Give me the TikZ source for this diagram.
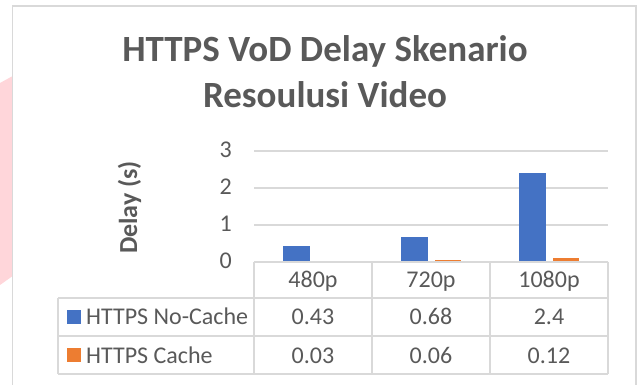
\documentclass[tikz,border=0pt]{standalone}
\usepackage{fontspec}
\setmainfont{Carlito}
\definecolor{txtgray}{HTML}{595959}
\definecolor{gridgray}{HTML}{D9D9D9}
\definecolor{nocache}{HTML}{4472C4}
\definecolor{cache}{HTML}{ED7D31}
\definecolor{wmpink}{HTML}{FFD6DA}
\tikzset{
  chartlbl/.style={text=txtgray,inner sep=0pt,font=\fontsize{24}{28}\selectfont},
  charttitle/.style={text=txtgray,inner sep=0pt,font=\bfseries\fontsize{37}{44}\selectfont},
  gridln/.style={draw=gridgray,line width=1.5pt},
  tableln/.style={draw=gridgray,line width=2pt}
}

\begin{document}
\begin{tikzpicture}[x=1pt,y=-1pt]
	\useasboundingbox (0,0) rectangle (641,385);
	\fill[wmpink] (0,83) -- (12.7,76) -- (12.7,276) -- (0,285) -- cycle;
	\draw[gridln] (12.7,385) -- (12.7,6) -- (636,6) -- (636,385);

	\node[charttitle,anchor=base] (title1) at (325,62) {HTTPS VoD Delay Skenario};
	\node[charttitle,anchor=base] (title2) at (325,108) {Resoulusi Video};
	\node[text=txtgray,inner sep=0pt,font=\bfseries\fontsize{26}{30}\selectfont,rotate=90,anchor=base] (ytitle) at (137,207.5) {Delay (s)};

	\foreach \v in {1,2,3}
		\draw[gridln] (254,{262-37*\v}) -- (608,{262-37*\v});
	\foreach \v in {0,...,3}
		\node[chartlbl,anchor=base east] (tick\v) at (232,{269-37*\v}) {\v};

	\foreach \c/\a/\b in {313/0.43/0.03,431/0.68/0.06,549/2.4/0.12}{
		\fill[nocache] (\c-30,262) rectangle (\c-3,{262-37*\a});
		\fill[cache] (\c+4,262) rectangle (\c+30,{262-37*\b});
	}

	\draw[tableln] (254,262) -- (608,262) (58,298) -- (608,298) (58,336) -- (608,336) (58,374) -- (608,374);
	\draw[tableln] (58,298) -- (58,374) (254,262) -- (254,374) (372,262) -- (372,374) (490,262) -- (490,374) (608,262) -- (608,374);

	\node[chartlbl,anchor=base] (cat480) at (313,288) {480p};
	\node[chartlbl,anchor=base] (cat720) at (431,288) {720p};
	\node[chartlbl,anchor=base] (cat1080) at (549,288) {1080p};

	\fill[nocache] (66.7,310) rectangle (81,324);
	\node[chartlbl,anchor=base west] (legnocache) at (86,325) {HTTPS No-Cache};
	\node[chartlbl,anchor=base] (nc480) at (313,325) {0.43};
	\node[chartlbl,anchor=base] (nc720) at (431,325) {0.68};
	\node[chartlbl,anchor=base] (nc1080) at (549,325) {2.4};

	\fill[cache] (66.7,348) rectangle (81,362);
	\node[chartlbl,anchor=base west] (legcache) at (86,363) {HTTPS Cache};
	\node[chartlbl,anchor=base] (c480) at (313,363) {0.03};
	\node[chartlbl,anchor=base] (c720) at (431,363) {0.06};
	\node[chartlbl,anchor=base] (c1080) at (549,363) {0.12};
\end{tikzpicture}
\end{document}
